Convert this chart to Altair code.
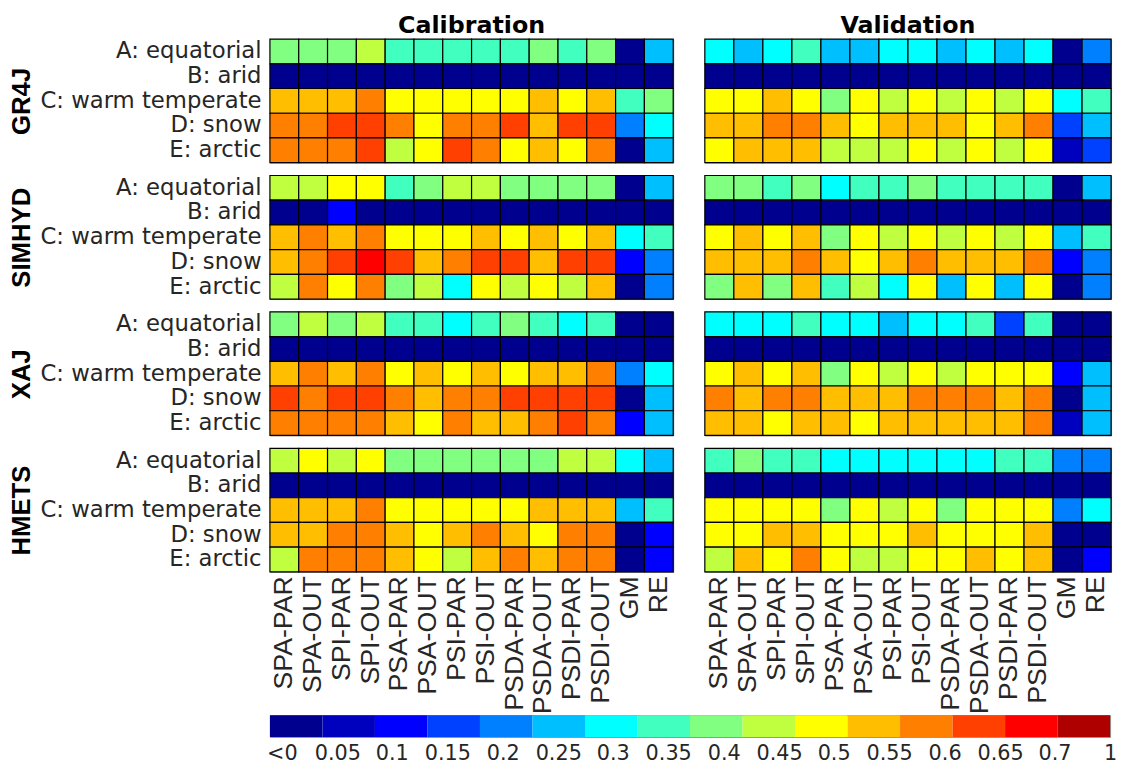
import altair as alt
import pandas as pd

columns = ["SPA-PAR", "SPA-OUT", "SPI-PAR", "SPI-OUT", "PSA-PAR", "PSA-OUT",
           "PSI-PAR", "PSI-OUT", "PSDA-PAR", "PSDA-OUT", "PSDI-PAR", "PSDI-OUT", "GM", "RE"]
climates = ["A: equatorial", "B: arid", "C: warm temperate", "D: snow", "E: arctic"]
models = ["GR4J", "SIMHYD", "XAJ", "HMETS"]
periods = ["Calibration", "Validation"]

thresholds = [0, 0.05, 0.1, 0.15, 0.2, 0.25, 0.3, 0.35, 0.4, 0.45, 0.5, 0.55, 0.6, 0.65, 0.7]
colors = ["#00008F", "#0000BF", "#0000FF", "#0040FF", "#0080FF", "#00BFFF", "#00FFFF", "#40FFBF",
          "#80FF80", "#BFFF40", "#FFFF00", "#FFBF00", "#FF8000", "#FF4000", "#FF0000", "#AF0000"]
cbar_labels = ["<0", "0.05", "0.1", "0.15", "0.2", "0.25", "0.3", "0.35", "0.4", "0.45",
               "0.5", "0.55", "0.6", "0.65", "0.7", "1"]

N = -0.2
arid = [N] * 14

gr4j_cal = [
    [.38, .38, .38, .43, .33, .33, .33, .33, .33, .38, .33, .38, N, .23],
    arid,
    [.53, .53, .53, .58, .48, .48, .48, .48, .48, .53, .48, .53, .33, .38],
    [.58, .58, .63, .63, .58, .48, .58, .58, .63, .53, .63, .63, .18, .28],
    [.58, .58, .58, .63, .43, .48, .63, .58, .48, .53, .48, .58, N, .23],
]
gr4j_val = [
    [.28, .23, .28, .33, .23, .23, .28, .28, .23, .28, .23, .28, N, .18],
    arid,
    [.48, .48, .53, .48, .38, .48, .43, .48, .43, .48, .43, .48, .28, .33],
    [.53, .53, .58, .58, .53, .48, .53, .53, .53, .48, .53, .58, .13, .23],
    [.48, .53, .53, .53, .43, .43, .43, .48, .43, .48, .43, .48, .03, .13],
]
simhyd_cal = [
    [.43, .43, .48, .48, .33, .38, .43, .43, .38, .38, .38, .38, N, .23],
    [N, N, .08, N, N, N, N, N, N, N, N, N, N, N],
    [.53, .58, .53, .58, .48, .48, .48, .53, .48, .53, .48, .53, .28, .33],
    [.53, .58, .63, .68, .63, .53, .58, .63, .63, .53, .63, .63, .08, .18],
    [.43, .58, .48, .58, .38, .43, .28, .48, .43, .48, .43, .53, N, .18],
]
simhyd_val = [
    [.38, .38, .33, .38, .28, .33, .33, .38, .33, .33, .33, .33, N, .23],
    arid,
    [.48, .53, .48, .53, .38, .48, .43, .48, .43, .48, .43, .48, .23, .33],
    [.53, .53, .53, .58, .53, .48, .53, .58, .53, .53, .53, .58, .08, .18],
    [.38, .53, .38, .53, .33, .43, .28, .48, .23, .48, .23, .48, N, .18],
]
xaj_cal = [
    [.38, .43, .38, .43, .33, .33, .28, .33, .38, .33, .28, .33, N, N],
    arid,
    [.53, .58, .53, .58, .48, .53, .48, .53, .48, .53, .53, .58, .18, .28],
    [.63, .58, .63, .63, .58, .53, .58, .58, .63, .63, .63, .63, N, .23],
    [.58, .58, .58, .58, .53, .48, .58, .53, .53, .58, .63, .58, .08, .23],
]
xaj_val = [
    [.28, .28, .28, .33, .28, .28, .23, .28, .28, .33, .13, .33, N, N],
    arid,
    [.48, .53, .48, .53, .38, .48, .43, .48, .43, .48, .48, .48, .08, .23],
    [.58, .53, .58, .58, .53, .53, .53, .58, .58, .58, .53, .58, N, .23],
    [.53, .53, .48, .53, .53, .48, .53, .53, .53, .53, .53, .58, .03, .23],
]
hmets_cal = [
    [.43, .48, .43, .48, .38, .38, .38, .38, .38, .38, .43, .43, .28, .23],
    arid,
    [.53, .53, .53, .58, .48, .48, .48, .48, .48, .53, .53, .53, .23, .33],
    [.53, .53, .58, .58, .53, .48, .53, .58, .53, .48, .58, .58, N, .08],
    [.43, .58, .58, .58, .53, .48, .43, .53, .58, .53, .58, .58, N, .08],
]
hmets_val = [
    [.33, .38, .33, .33, .28, .28, .28, .28, .28, .28, .33, .33, .18, .18],
    arid,
    [.48, .48, .48, .48, .38, .48, .43, .48, .38, .48, .48, .48, .18, .28],
    [.48, .48, .53, .53, .48, .48, .48, .53, .48, .48, .48, .53, N, N],
    [.43, .53, .48, .58, .48, .43, .43, .48, .48, .53, .48, .53, N, .08],
]

data = {
    ("GR4J", "Calibration"): gr4j_cal, ("GR4J", "Validation"): gr4j_val,
    ("SIMHYD", "Calibration"): simhyd_cal, ("SIMHYD", "Validation"): simhyd_val,
    ("XAJ", "Calibration"): xaj_cal, ("XAJ", "Validation"): xaj_val,
    ("HMETS", "Calibration"): hmets_cal, ("HMETS", "Validation"): hmets_val,
}

YFONT = "DejaVu Sans"
YSIZE = 23
XFONT = "Liberation Sans"
TITLE_FONT = "Liberation Sans"
TITLE_SIZE = 26
TXT = "#262626"
Y_EXTENT = 234
X_EXTENT = 136

color_scale = alt.Scale(type="threshold", domain=thresholds, range=colors)


def y_axis_for(title, visible=True):
    return alt.Axis(labelFont=YFONT, labelFontSize=YSIZE,
                    labelColor=TXT if visible else "transparent", ticks=False,
                    domain=False, labelPadding=9, labelLimit=400,
                    minExtent=Y_EXTENT, maxExtent=Y_EXTENT, title=title,
                    titleFont=TITLE_FONT, titleFontSize=TITLE_SIZE, titleFontWeight="bold",
                    titleColor="black" if visible else "transparent", titlePadding=4)


def panel(model, period, show_x, show_title):
    grid = data[(model, period)]
    recs = []
    for ci, clim in enumerate(climates):
        for ki, col in enumerate(columns):
            recs.append({"climate": clim, "col": col, "value": grid[ci][ki]})
    df = pd.DataFrame(recs)
    left = period == "Calibration"
    if show_x:
        x_axis = alt.Axis(labelAngle=-90, labelFont=XFONT, labelFontSize=27, labelColor=TXT,
                          ticks=False, domain=False, labelPadding=4, title=None, labelLimit=300,
                          minExtent=X_EXTENT, maxExtent=X_EXTENT)
    else:
        x_axis = None
    y_axis = y_axis_for(model) if left else None
    ch = alt.Chart(df).mark_rect(stroke="black", strokeWidth=1.2).encode(
        x=alt.X("col:N", sort=columns, axis=x_axis,
                scale=alt.Scale(paddingInner=0, paddingOuter=0)),
        y=alt.Y("climate:N", sort=climates, axis=y_axis,
                scale=alt.Scale(paddingInner=0, paddingOuter=0)),
        color=alt.Color("value:Q", scale=color_scale, legend=None),
    ).properties(width=408 if left else 411, height=125)
    if show_title:
        ch = ch.properties(title=alt.TitleParams(period, font="DejaVu Sans", fontSize=24,
                                                 fontWeight="bold", color="black", offset=1))
    return ch


rows = []
for mi, m in enumerate(models):
    rows.append(alt.hconcat(
        panel(m, "Calibration", mi == len(models) - 1, mi == 0),
        panel(m, "Validation", mi == len(models) - 1, mi == 0),
        spacing=28,
    ))
grid_chart = alt.vconcat(*rows, spacing=9)

# colorbar tick labels drift slightly right of the bin centres, as in the reference
n_lab = len(cbar_labels)
offset_conditions = [
    {"test": f"datum.value === '{lab}'", "value": round(-14 + 41 * i / (n_lab - 1))}
    for i, lab in enumerate(cbar_labels)
]

cb_df = pd.DataFrame({"label": cbar_labels, "row": ["C: warm temperate"] * len(cbar_labels)})
colorbar = alt.Chart(cb_df).mark_rect().encode(
    x=alt.X("label:N", sort=cbar_labels,
            axis=alt.Axis(labelAngle=0, ticks=False, domain=False, labelFont="DejaVu Sans",
                          labelFontSize=21, labelColor=TXT, labelPadding=6, title=None,
                          labelOffset={"condition": offset_conditions, "value": 0}),
            scale=alt.Scale(paddingInner=0, paddingOuter=0)),
    y=alt.Y("row:N", axis=y_axis_for("GR4J", visible=False)),
    color=alt.Color("label:N", scale=alt.Scale(domain=cbar_labels, range=colors), legend=None),
).properties(width=850, height=22)

chart = alt.vconcat(grid_chart, colorbar, spacing=-24).properties(
    padding={"left": 0, "top": 0, "right": 0, "bottom": 0}
).configure_view(stroke="#8c8c8c", strokeWidth=1)

chart.save("out.html", embed_options={"renderer": "svg", "actions": False})
